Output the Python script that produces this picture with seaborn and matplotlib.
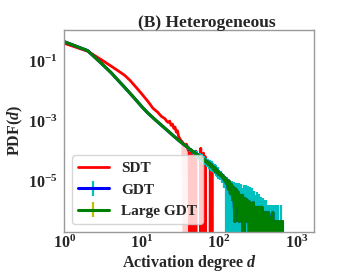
import numpy as np
import matplotlib
matplotlib.use("Agg")
import matplotlib.pyplot as plt
import seaborn as sns

# ---------------- data ----------------
sdt_d = [1, 2, 3, 4, 5, 6, 7, 8, 9, 10, 12, 14, 16, 18, 20,
         21, 22, 23, 24, 25, 26, 27, 28, 29, 30, 32, 34, 36, 38, 40,
         41, 42, 43, 44, 45, 46, 47, 49, 50, 51,
         57, 58, 59, 62, 63, 64, 65, 66, 67,
         76, 77, 78, 80, 81, 82, 88]
sdt_pdf = [0.41, 0.224, 0.117, 0.072, 0.049, 0.0355, 0.0245, 0.0166, 0.0117, 0.0085,
           0.0048, 0.0028, 0.0021, 0.0015, 0.00126,
           0.00105, 0.00095, 0.00105, 0.00076, 0.00083, 0.0006, 0.00066, 0.00045, 0.0005, 0.00032,
           0.00024, 0.0002, 0.00016, 0.000178, 0.000112,
           1.0e-4, 0, 1.1e-4, 0, 0, 9e-5, 0, 0, 1.05e-4, 0,
           0, 1.3e-4, 0, 0, 9e-5, 0, 0, 7e-5, 0,
           0, 4.5e-5, 0, 0, 3.5e-5, 0, 0]

# shaded uncertainty of SDT
sdt_band_d = [30, 32, 34, 36, 38, 40, 42, 44, 46, 47]
sdt_band_lo = [2.6e-4, 1.8e-4, 0, 0, 0, 0, 0, 0, 0, 0]
sdt_band_hi = [3.6e-4, 2.8e-4, 2.3e-4, 1.9e-4, 1.9e-4, 1.4e-4, 1.2e-4, 1.3e-4, 1.0e-4, 9e-5]

gdt_d = [1, 2, 3, 4, 5, 6, 7, 8, 10, 12, 15, 20, 25, 30, 35,
         40, 42, 44, 46, 48, 50, 52, 54, 56, 58, 60, 62, 64, 66, 68, 70, 72, 74, 76, 78,
         80, 82, 84, 86, 88, 90, 92, 94, 96, 98,
         100, 103, 106, 110, 113, 117, 120, 124, 128, 132,
         136, 140, 145, 150, 155, 160, 165, 170, 176, 182,
         188, 194, 200, 207, 214, 221, 228, 235, 243, 251,
         259, 268, 277, 286, 295, 305, 315, 325, 336, 347,
         358, 370, 382, 395, 408, 421, 435, 449, 464, 479,
         495, 511, 528, 545, 563, 581, 600, 620, 640, 660]

large_gdt_pdf = [0.464, 0.234, 0.089, 0.0437, 0.0234, 0.0141, 0.0091, 0.0062, 0.0032, 0.00195,
                 0.00115, 0.0006, 0.00036, 0.00024, 0.000174,
                 1.35e-4, 1.17e-4, 1.12e-4, 9.8e-5, 9.5e-5, 8.1e-5, 8.3e-5, 7.1e-5, 7.1e-5, 6.2e-5,
                 6.3e-5, 5.2e-5, 5.5e-5, 4.7e-5, 4.9e-5, 4.2e-5, 4.5e-5, 3.7e-5, 4.0e-5, 3.2e-5,
                 3.6e-5, 2.9e-5, 3.2e-5, 2.5e-5, 2.9e-5, 2.2e-5, 2.6e-5, 2.0e-5, 2.3e-5, 1.8e-5,
                 2.0e-5, 1.66e-5, 1.82e-5, 1.41e-5, 1.58e-5, 1.12e-5, 1.32e-5, 8.9e-6, 1.12e-5, 5.6e-6,
                 1.0e-5, 4.0e-6, 7.9e-6, 2.5e-6, 6.3e-6, 4.7e-7, 5.6e-6, 1.6e-6, 4.5e-6, 4.7e-7,
                 3.5e-6, 9.3e-7, 3.5e-6, 0, 2.8e-6, 4.7e-7, 2.5e-6, 9.3e-7, 2.2e-6, 0,
                 1.8e-6, 4.7e-7, 2.0e-6, 0, 1.4e-6, 4.7e-7, 1.4e-6, 0, 1.4e-6, 4.7e-7,
                 1.4e-6, 0, 9.3e-7, 4.7e-7, 9.3e-7, 0, 9.3e-7, 4.7e-7, 0, 4.7e-7,
                 9.3e-7, 0, 4.7e-7, 0, 4.7e-7, 4.7e-7, 0, 4.7e-7, 0, 4.7e-7]

# GDT curve lies underneath the Large GDT curve everywhere
gdt_pdf = list(large_gdt_pdf)

# GDT error bars (cyan): distance below / above the curve
gdt_err_lo = [0, 0, 0, 0, 0, 0, 0, 0, 0, 0, 0, 0, 0, 0, 0,
              2.0e-5, 1.8e-5, 1.7e-5, 1.6e-5, 1.5e-5,
              2.0e-5, 2.1e-5, 1.8e-5, 1.9e-5, 1.6e-5, 1.6e-5, 1.4e-5, 1.5e-5, 1.2e-5, 1.3e-5,
              1.1e-5, 1.2e-5, 1.0e-5, 1.1e-5, 9e-6, 1.0e-5, 8e-6, 9e-6, 7e-6, 8e-6,
              6.5e-6, 7.5e-6, 6e-6, 7e-6, 6e-6,
              6e-6, 5e-6, 6e-6, 5e-6, 6e-6, 5e-6, 6e-6, 8.9e-6, 1.12e-5, 5.6e-6,
              1.0e-5, 4.0e-6, 7.9e-6, 2.5e-6, 6.3e-6, 4.7e-7, 5.6e-6, 1.6e-6, 4.5e-6, 4.7e-7,
              3.5e-6, 9.3e-7, 3.5e-6, 0, 2.8e-6, 4.7e-7, 2.5e-6, 9.3e-7, 2.2e-6, 0,
              1.8e-6, 4.7e-7, 2.0e-6, 0, 1.4e-6, 4.7e-7, 1.4e-6, 0, 1.4e-6, 4.7e-7,
              1.4e-6, 0, 9.3e-7, 4.7e-7, 9.3e-7, 0, 9.3e-7, 4.7e-7, 0, 4.7e-7,
              9.3e-7, 0, 4.7e-7, 0, 4.7e-7, 4.7e-7, 0, 4.7e-7, 0, 4.7e-7]
gdt_err_hi = [0, 0, 0, 0, 0, 0, 0, 0, 0, 0, 0, 0, 0, 0, 0,
              2.0e-5, 1.8e-5, 1.7e-5, 1.6e-5, 1.5e-5,
              2.4e-5, 2.5e-5, 2.1e-5, 2.2e-5, 1.9e-5, 1.9e-5, 1.6e-5, 1.7e-5, 1.4e-5, 1.5e-5,
              1.3e-5, 1.4e-5, 1.2e-5, 1.3e-5, 1.1e-5, 1.2e-5, 1.0e-5, 1.1e-5, 9e-6, 1.0e-5,
              8e-6, 9e-6, 7e-6, 8e-6, 7e-6,
              5e-6, 4.4e-6, 4.2e-6, 4.9e-6, 2e-6, 3.9e-6, 2.6e-6, 4.3e-6, 2.9e-6, 6.1e-6,
              2e-6, 6.5e-6, 2.8e-6, 7e-6, 3.7e-6, 8.4e-6, 2.3e-6, 7.7e-6, 3.1e-6, 8.4e-6,
              3.6e-6, 7.4e-6, 2.8e-6, 7.9e-6, 2.8e-6, 7.1e-6, 2.7e-6, 6.2e-6, 2.8e-6, 6.8e-6,
              2.7e-6, 5.5e-6, 2.0e-6, 5.0e-6, 2.1e-6, 4.0e-6, 1.8e-6, 3.8e-6, 1.4e-6, 2.7e-6,
              1.1e-6, 2.8e-6, 1.3e-6, 2.0e-6, 1.5e-6, 1.66e-6, 0.73e-6, 1.19e-6, 1.66e-6, 1.19e-6,
              0.73e-6, 1.66e-6, 1.19e-6, 1.66e-6, 1.19e-6, 1.19e-6, 0, 0, 1.66e-6, 0]

# errors of Large GDT are not visible (hidden by the line)
large_gdt_err = np.zeros(len(large_gdt_pdf))

labels = ["SDT", "GDT", "Large GDT"]
title = "(B) Heterogeneous"
xlabel = "Activation degree $d$"
ylabel = "PDF($d$)"
xticks = [1, 10, 100, 1000]
yticks = [1e-5, 1e-3, 1e-1]

BELOW = 1e-9  # empty bins are drawn just below the visible range


def shown(a):
    a = np.asarray(a, dtype=float)
    return np.where(a > 0, a, BELOW)


# ---------------- style ----------------
sns.set_style("white")
plt.rcParams.update({
    "font.family": ["Liberation Serif", "DejaVu Serif"],
    "font.weight": "bold",
    "axes.labelweight": "bold",
    "axes.titleweight": "bold",
    "mathtext.fontset": "custom",
    "mathtext.rm": "Liberation Serif:bold",
    "mathtext.it": "Liberation Serif:italic:bold",
    "mathtext.bf": "Liberation Serif:bold",
})

fig = plt.figure(figsize=(3.49, 2.73), dpi=100)
ax = fig.add_axes([64.3 / 349, 41.3 / 273, 250 / 349, 201.7 / 273])

sns.lineplot(x=sdt_d, y=shown(sdt_pdf), color="red", lw=2.0, label=labels[0],
             ax=ax, estimator=None, sort=False)
ax.fill_between(sdt_band_d, shown(sdt_band_lo), sdt_band_hi,
                color="red", alpha=0.2, lw=0)

g_val = shown(gdt_pdf)
g_lo = np.clip(g_val - np.asarray(gdt_err_lo), BELOW, None)
g_hi = g_val + np.asarray(gdt_err_hi)
ax.errorbar(gdt_d, g_val, yerr=[g_val - g_lo, g_hi - g_val], color="blue", ecolor="c",
            lw=2.2, elinewidth=1.6, label=labels[1])
ax.errorbar(gdt_d, shown(large_gdt_pdf), yerr=large_gdt_err, color="green", ecolor="y",
            lw=2.2, elinewidth=1.6, label=labels[2])

ax.set_xscale("log")
ax.set_yscale("log")
ax.set_xlim(1, 1700)
ax.set_ylim(2.15e-7, 1.14)
ax.set_xticks(xticks)
ax.set_yticks(yticks)
ax.minorticks_off()

for s in ax.spines.values():
    s.set_color("0.6")
    s.set_linewidth(1.0)

ax.tick_params(axis="both", labelsize=11.5)
ax.tick_params(axis="x", which="both", length=0, pad=2)
ax.tick_params(axis="y", which="major", length=3, pad=2, color="0.3")

ax.set_xlabel(xlabel, fontsize=11.5, labelpad=1)
ax.set_ylabel(ylabel, fontsize=11.5, labelpad=2)
ax.set_title(title, fontsize=12.5, x=0.57, pad=2)

leg = ax.legend(loc="lower left", fontsize=11, handlelength=2.0)
leg.get_frame().set_edgecolor("0.8")

fig.savefig("out.png", dpi=100, facecolor="white")
